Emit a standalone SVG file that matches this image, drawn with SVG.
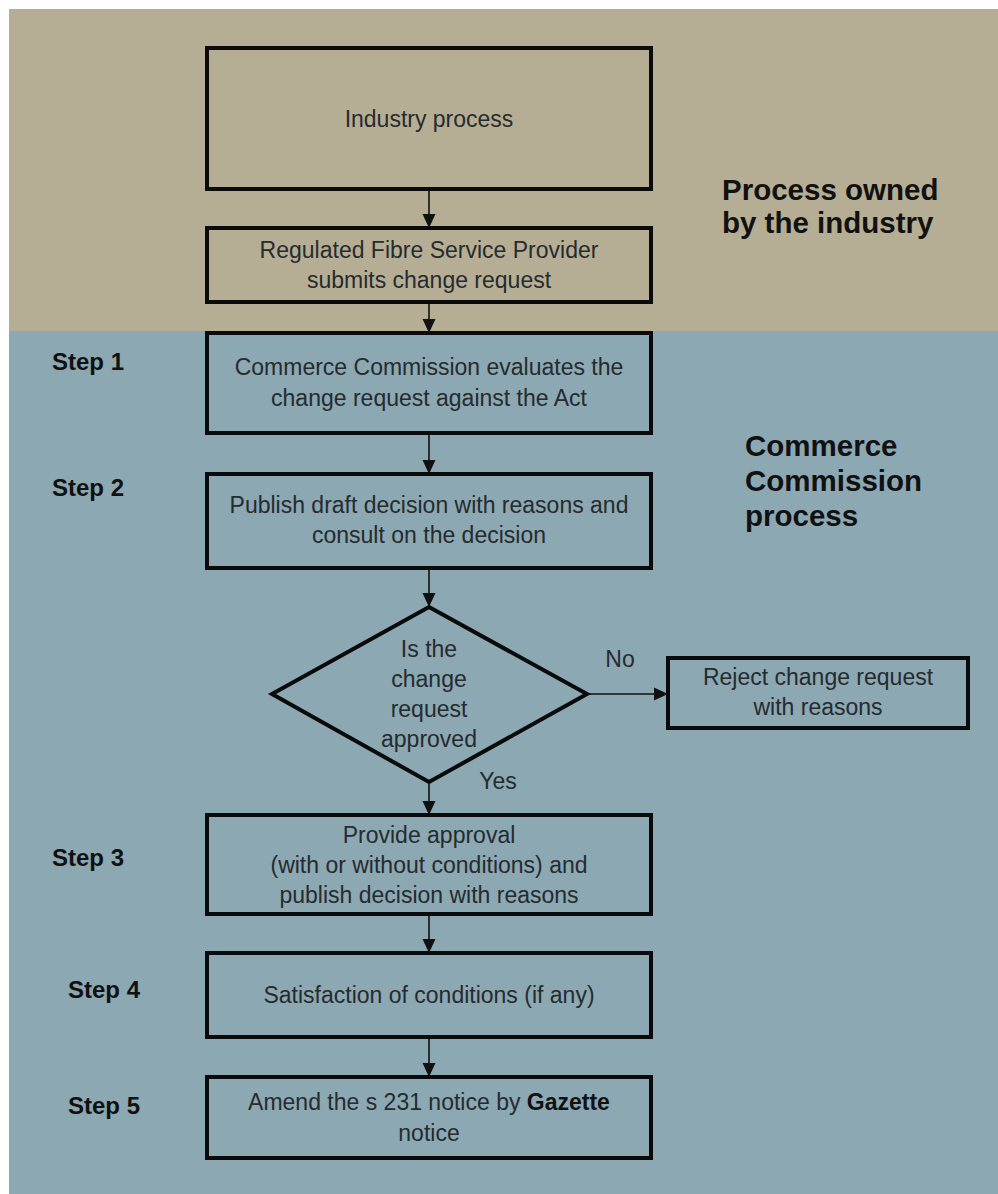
<svg xmlns="http://www.w3.org/2000/svg" width="998" height="1194" viewBox="0 0 998 1194">
<style>
.box{fill:none;stroke:#0a0a0a;stroke-width:4}
.t{font-family:"Liberation Sans",Arial,sans-serif;font-size:23px;fill:#262b2e;text-anchor:middle}
.h{font-family:"Liberation Sans",Arial,sans-serif;font-size:29.5px;font-weight:bold;fill:#111}
.s{font-family:"Liberation Sans",Arial,sans-serif;font-size:24px;font-weight:bold;fill:#111}
.c{stroke:#111;stroke-width:1.6;fill:none;marker-end:url(#ah)}
</style>
<defs>
<marker id="ah" viewBox="0 0 14 14" refX="13" refY="7" markerWidth="14" markerHeight="14" markerUnits="userSpaceOnUse" orient="auto">
<path d="M0,0.5 L14,7 L0,13.5 Z" fill="#111"/>
</marker>
</defs>
<rect x="0" y="0" width="998" height="1194" fill="#ffffff"/>
<rect x="9" y="9" width="989" height="323" fill="#b6ae94"/>
<rect x="9" y="331" width="989" height="863" fill="#8ba8b3"/>

<g id="label-industry">
<text class="h" x="722" y="200">Process owned</text>
<text class="h" x="722" y="233">by the industry</text>
</g>
<g id="label-commission">
<text class="h" x="745" y="456">Commerce</text>
<text class="h" x="745" y="491">Commission</text>
<text class="h" x="745" y="526">process</text>
</g>
<g id="steps">
<text class="s" x="52" y="370">Step 1</text>
<text class="s" x="52" y="496">Step 2</text>
<text class="s" x="52" y="866">Step 3</text>
<text class="s" x="68" y="998">Step 4</text>
<text class="s" x="68" y="1114">Step 5</text>
</g>

<g id="connectors">
<line class="c" x1="429" y1="191" x2="429" y2="227"/>
<line class="c" x1="429" y1="304" x2="429" y2="332"/>
<line class="c" x1="429" y1="435" x2="429" y2="473"/>
<line class="c" x1="429" y1="570" x2="429" y2="606"/>
<line class="c" x1="589" y1="694" x2="667" y2="694"/>
<line class="c" x1="429" y1="784" x2="429" y2="814"/>
<line class="c" x1="429" y1="916" x2="429" y2="952"/>
<line class="c" x1="429" y1="1039" x2="429" y2="1076"/>
<text class="t" x="620" y="667">No</text>
<text class="t" x="498" y="789">Yes</text>
</g>

<g id="industry-process">
<rect class="box" x="207" y="48" width="444" height="141"/>
<text class="t" x="429" y="127">Industry process</text>
</g>
<g id="rfsp-submits">
<rect class="box" x="207" y="228" width="444" height="74"/>
<text class="t" x="429" y="258">Regulated Fibre Service Provider</text>
<text class="t" x="429" y="288">submits change request</text>
</g>
<g id="evaluate">
<rect class="box" x="207" y="333" width="444" height="100"/>
<text class="t" x="429" y="375">Commerce Commission evaluates the</text>
<text class="t" x="429" y="406">change request against the Act</text>
</g>
<g id="publish-draft">
<rect class="box" x="207" y="474" width="444" height="94"/>
<text class="t" x="429" y="513">Publish draft decision with reasons and</text>
<text class="t" x="429" y="543">consult on the decision</text>
</g>
<g id="decision">
<polygon class="box" points="429,607 587,694 429,782 272,694"/>
<text class="t" x="429" y="657">Is the</text>
<text class="t" x="429" y="687">change</text>
<text class="t" x="429" y="717">request</text>
<text class="t" x="429" y="747">approved</text>
</g>
<g id="reject">
<rect class="box" x="668" y="658" width="300" height="70"/>
<text class="t" x="818" y="685">Reject change request</text>
<text class="t" x="818" y="715">with reasons</text>
</g>
<g id="approval">
<rect class="box" x="207" y="815" width="444" height="99"/>
<text class="t" x="429" y="843">Provide approval</text>
<text class="t" x="429" y="873">(with or without conditions) and</text>
<text class="t" x="429" y="903">publish decision with reasons</text>
</g>
<g id="conditions">
<rect class="box" x="207" y="953" width="444" height="84"/>
<text class="t" x="429" y="1003">Satisfaction of conditions (if any)</text>
</g>
<g id="amend">
<rect class="box" x="207" y="1077" width="444" height="81"/>
<text class="t" x="429" y="1110">Amend the s 231 notice by <tspan font-weight="bold" fill="#111">Gazette</tspan></text>
<text class="t" x="429" y="1141">notice</text>
</g>
</svg>
